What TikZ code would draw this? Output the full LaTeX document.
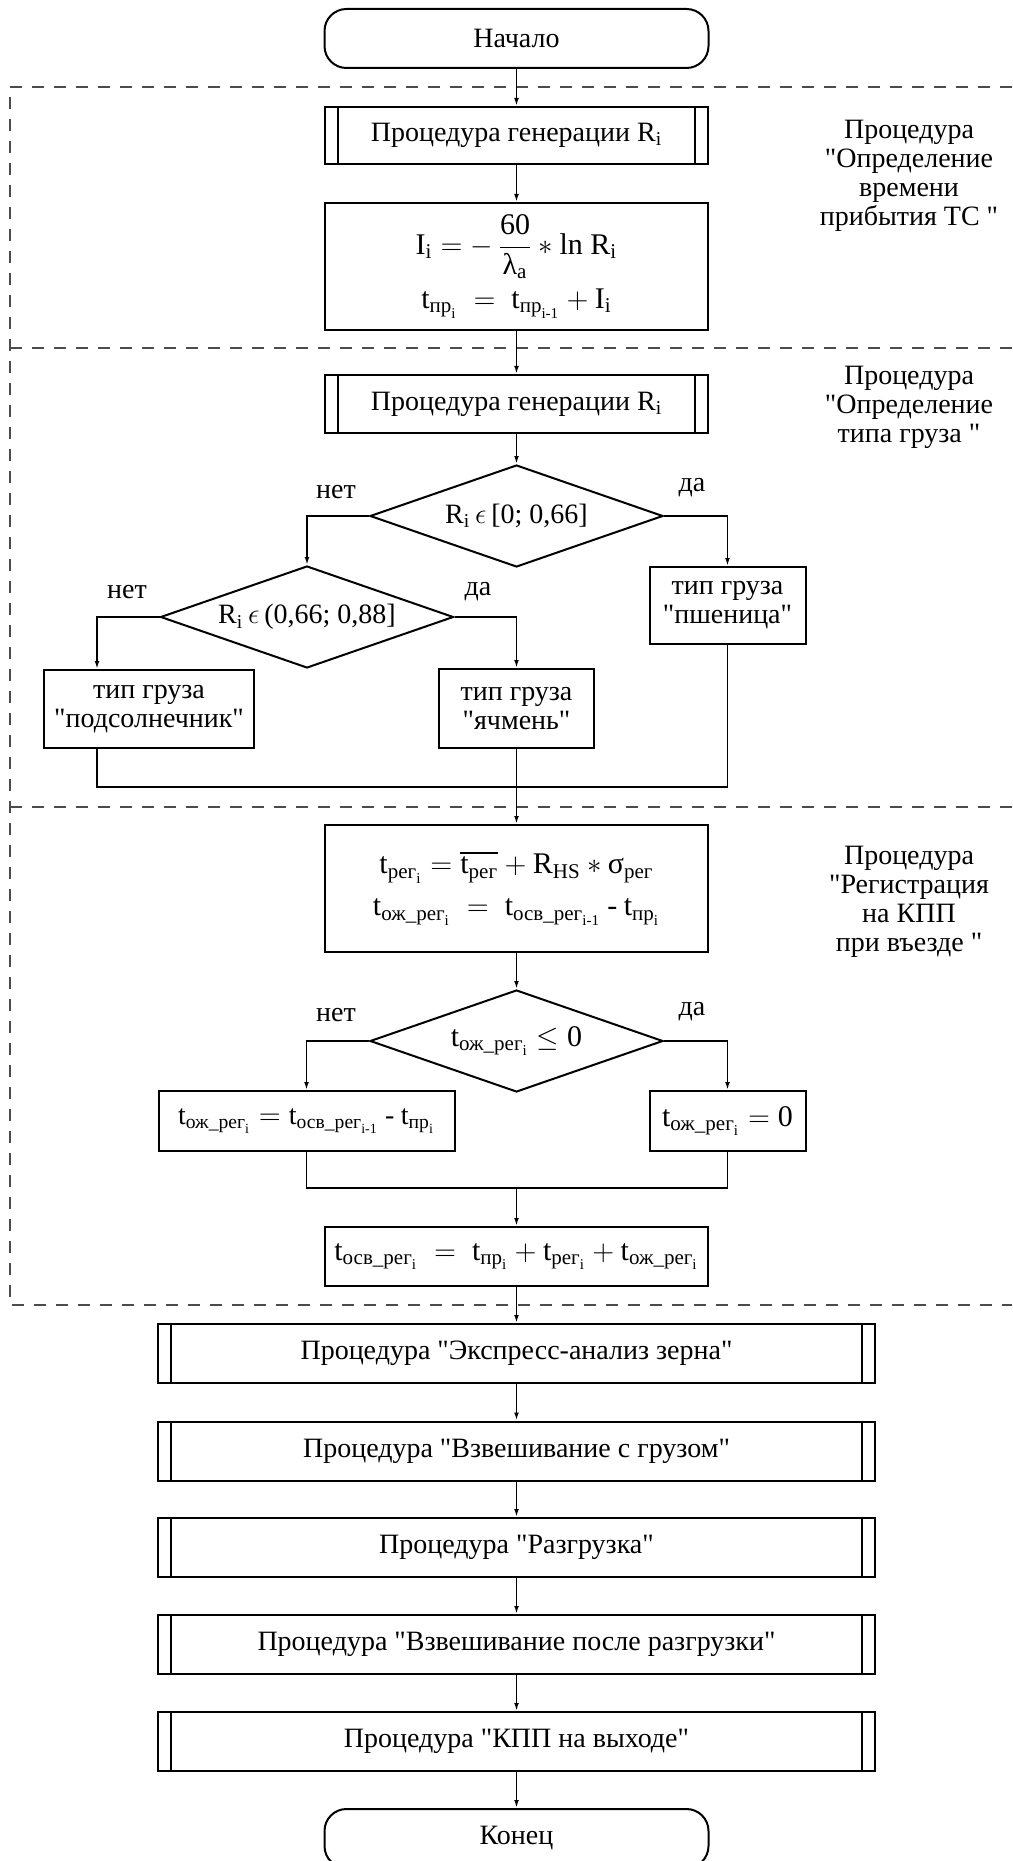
\documentclass[tikz,border=0pt]{standalone}
\usepackage{amsmath}
\usepackage{fontspec}
\setmainfont{Liberation Serif}
\newfontfamily\plainserif{Liberation Serif}
\usetikzlibrary{shapes.geometric,arrows.meta}
\newcommand\tx[1]{\text{#1}}
\newcommand\q{{\plainserif\symbol{34}}}
\newcommand\fs{\fontsize{14pt}{14.5pt}\selectfont}
\newcommand\fm{\fontsize{15pt}{16pt}\selectfont}
\begin{document}
\begin{tikzpicture}[x=0.5pt,y=-0.5pt,font=\fs,
  box/.style={draw, line width=1pt, rectangle, inner sep=2pt, align=center},
  proc/.style={box, path picture={
     \draw[line width=1pt] ([xshift=6.5pt]path picture bounding box.north west) -- ([xshift=6.5pt]path picture bounding box.south west);
     \draw[line width=1pt] ([xshift=-6.5pt]path picture bounding box.north east) -- ([xshift=-6.5pt]path picture bounding box.south east);}},
  bigproc/.style={proc, minimum width=358.5pt, minimum height=29.5pt},
  decision/.style={draw, line width=1pt, diamond, aspect=2.87, inner sep=0pt, minimum width=146.5pt, minimum height=51pt},
  term/.style={draw, line width=1pt, rectangle, rounded corners=11pt, minimum width=192pt, minimum height=29.5pt},
  arr/.style={line width=0.8pt, -{Latex[length=4pt,width=2.4pt]}},
  conn/.style={line width=0.8pt},
  sect/.style={dash pattern=on 6pt off 5pt, line width=0.6pt, black!70},
  lbl/.style={inner sep=0pt, align=center}]
\clip (0,0) rectangle (1012,1861);
% section frames
\draw[sect] (1012,87) -- (10,87) -- (10,1305) -- (1012,1305);
\draw[sect] (10,348) -- (1012,348);
\draw[sect] (10,807) -- (1012,807);
% nodes
\node[term] (start) at (516.5,38.5) {Начало};
\node[proc, minimum width=191.5pt, minimum height=28.5pt] (gen1) at (516.5,135.5) {Процедура генерации $\tx{R}_{\tx{i}}$};
\node[box, minimum width=191.5pt, minimum height=63.5pt, font=\fm] (f1) at (516.5,266.5)
  {$\tx{I}_{\tx{i}} = -\,\dfrac{\tx{60}}{\tx{λ}_{\tx{a}}} \ast \tx{ln}\ \tx{R}_{\tx{i}}$\\[4pt]
   $\tx{t}_{\tx{пр}_{\tx{i}}} \;=\; \tx{t}_{\tx{пр}_{\tx{i-1}}} + \tx{I}_{\tx{i}}$};
\node[proc, minimum width=191.5pt, minimum height=29pt] (gen2) at (516.5,404) {Процедура генерации $\tx{R}_{\tx{i}}$};
\node[decision] (d1) at (516.5,516) {$\tx{R}_{\tx{i}}\,\epsilon\,\tx{[0; 0,66]}$};
\node[box, minimum width=78pt, minimum height=38.5pt] (wheat) at (727.5,605.5) {тип груза\\\q пшеница\q};
\node[decision] (d2) at (307,617) {$\tx{R}_{\tx{i}}\,\epsilon\,\tx{(0,66; 0,88]}$};
\node[box, minimum width=105pt, minimum height=39pt] (sun) at (149,709) {тип груза\\\q подсолнечник\q};
\node[box, minimum width=77.5pt, minimum height=39.5pt] (barley) at (516.5,708.5) {тип груза\\\q ячмень\q};
\coordinate (m1) at (516.5,787);
\node[box, minimum width=191.5pt, minimum height=63.5pt, font=\fm] (f2) at (516.5,888.5)
  {$\tx{t}_{\tx{рег}_{\tx{i}}} = \overline{\tx{t}_{\tx{рег}}} + \tx{R}_{\tx{HS}} \ast \tx{σ}_{\tx{рег}}$\\[5pt]
   $\tx{t}_{\tx{ож\_рег}_{\tx{i}}} \;=\; \tx{t}_{\tx{осв\_рег}_{\tx{i-1}}} \mathbin{\tx{-}} \tx{t}_{\tx{пр}_{\tx{i}}}$};
\node[decision, font=\fm] (d3) at (516.5,1041) {$\tx{t}_{\tx{ож\_рег}_{\tx{i}}} \le \tx{0}$};
\node[box, minimum width=148pt, minimum height=30pt, font=\fs] (wl) at (306.5,1121)
  {$\tx{t}_{\tx{ож\_рег}_{\tx{i}}} = \tx{t}_{\tx{осв\_рег}_{\tx{i-1}}} \mathbin{\tx{-}} \tx{t}_{\tx{пр}_{\tx{i}}}$};
\node[box, minimum width=78pt, minimum height=30pt, font=\fm] (wr) at (727.5,1121) {$\tx{t}_{\tx{ож\_рег}_{\tx{i}}} = \tx{0}$};
\coordinate (m2) at (516.5,1188);
\node[box, minimum width=191.5pt, minimum height=29.5pt, font=\fm] (osv) at (516.5,1256.5)
  {$\tx{t}_{\tx{осв\_рег}_{\tx{i}}} \;=\; \tx{t}_{\tx{пр}_{\tx{i}}} + \tx{t}_{\tx{рег}_{\tx{i}}} + \tx{t}_{\tx{ож\_рег}_{\tx{i}}}$};
\node[bigproc] (p1) at (516.5,1353.5) {Процедура \q Экспресс-анализ зерна\q};
\node[bigproc] (p2) at (516.5,1451) {Процедура \q Взвешивание с грузом\q};
\node[bigproc] (p3) at (516.5,1547.5) {Процедура \q Разгрузка\q};
\node[bigproc] (p4) at (516.5,1644.5) {Процедура \q Взвешивание после разгрузки\q};
\node[bigproc] (p5) at (516.5,1741.5) {Процедура \q КПП на выходе\q};
\node[term] (end) at (516.5,1838.5) {Конец};
% labels
\node[lbl] (n1) at (336,492) {нет};
\node[lbl] (y1) at (692,488) {да};
\node[lbl] (n2) at (127,592) {нет};
\node[lbl] (y2) at (478,592) {да};
\node[lbl] (n3) at (336,1015) {нет};
\node[lbl] (y3) at (692,1012) {да};
\node[lbl] (s1) at (909,176) {Процедура\\\q Определение\\времени\\прибытия ТС \q};
\node[lbl] (s2) at (909,407) {Процедура\\\q Определение\\типа груза \q};
\node[lbl] (s3) at (909,902) {Процедура\\\q Регистрация\\на КПП\\при въезде \q};
% connectors
\draw[arr] (start) -- (gen1);
\draw[arr] (gen1) -- (f1);
\draw[arr] (f1) -- (gen2);
\draw[arr] (gen2) -- (d1);
\draw[arr] (d1.west) -| (d2.north);
\draw[arr] (d1.east) -| (wheat.north);
\draw[arr] (d2.west) -| ([xshift=-26pt]sun.north);
\draw[arr] (d2.east) -| (barley.north);
\draw[conn] ([xshift=-26pt]sun.south) |- (m1) -| (wheat.south);
\draw[conn] (barley.south) -- (m1);
\draw[arr] (m1) -- (f2.north);
\draw[arr] (f2) -- (d3);
\draw[arr] (d3.west) -| (wl.north);
\draw[arr] (d3.east) -| (wr.north);
\draw[conn] (wl.south) |- (m2) -| (wr.south);
\draw[arr] (m2) -- (osv.north);
\draw[arr] (osv) -- (p1);
\draw[arr] (p1) -- (p2);
\draw[arr] (p2) -- (p3);
\draw[arr] (p3) -- (p4);
\draw[arr] (p4) -- (p5);
\draw[arr] (p5) -- (end);
\end{tikzpicture}
\end{document}
